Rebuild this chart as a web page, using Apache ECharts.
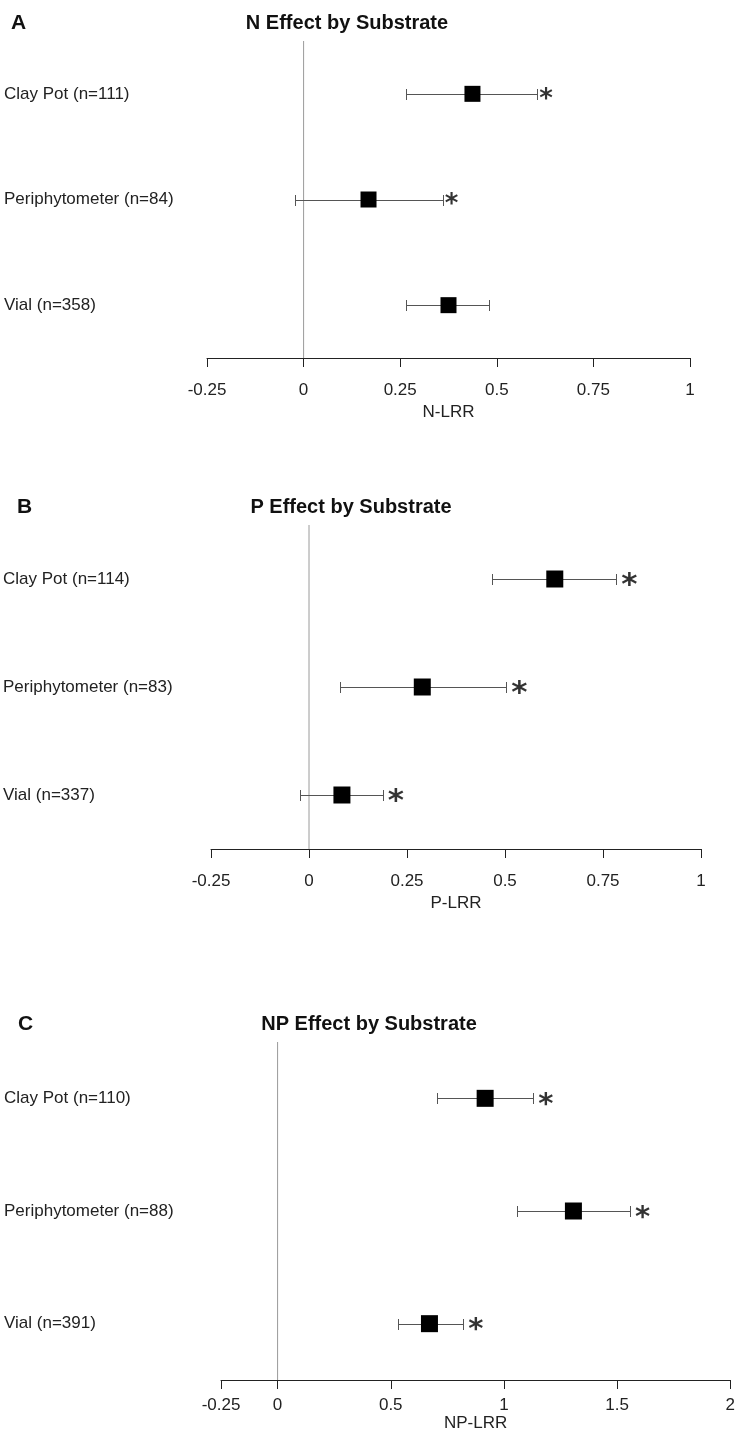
<!DOCTYPE html>
<html>
<head>
<meta charset="utf-8">
<script src="https://cdn.jsdelivr.net/npm/echarts@6/dist/echarts.min.js"></script>
<style>html,body{margin:0;padding:0;background:#fff}#c{width:738px;height:1446px}</style>
</head>
<body>
<div id="c"></div>
<script>
// ---- Data ----
var catsA = ['Clay Pot (n=111)', 'Periphytometer (n=84)', 'Vial (n=358)'];
var meanA = [0.437, 0.168, 0.375];
var lowA  = [0.266, -0.023, 0.266];
var highA = [0.605, 0.360, 0.479];
var sigA  = [true, true, false];
var ticksA = [-0.25, 0, 0.25, 0.5, 0.75, 1];

var catsB = ['Clay Pot (n=114)', 'Periphytometer (n=83)', 'Vial (n=337)'];
var meanB = [0.627, 0.289, 0.084];
var lowB  = [0.467, 0.079, -0.022];
var highB = [0.784, 0.503, 0.188];
var sigB  = [true, true, true];
var ticksB = [-0.25, 0, 0.25, 0.5, 0.75, 1];

var catsC = ['Clay Pot (n=110)', 'Periphytometer (n=88)', 'Vial (n=391)'];
var meanC = [0.917, 1.307, 0.671];
var lowC  = [0.706, 1.057, 0.531];
var highC = [1.130, 1.557, 0.820];
var sigC  = [true, true, true];
var ticksC = [-0.25, 0, 0.5, 1, 1.5, 2];

var titles = ['N Effect by Substrate', 'P Effect by Substrate', 'NP Effect by Substrate'];
var letters = ['A', 'B', 'C'];
var axisNames = ['N-LRR', 'P-LRR', 'NP-LRR'];

// ---- Layout ----
var FONT = '"Liberation Sans", Arial, sans-serif';
var STARFONT = '"DejaVu Sans", sans-serif';
var panels = [
  {cats: catsA, mean: meanA, low: lowA, high: highA, sig: sigA, ticks: ticksA,
   grid: {left: 207, right: 48, top: 41, height: 317}, labelX: 4, square: 16, star: 26, starDist: 2,
   labelMargin: 24, nameGap: 46, titleX: 342, titleY: 21, letterX: 6},
  {cats: catsB, mean: meanB, low: lowB, high: highB, sig: sigB, ticks: ticksB,
   grid: {left: 207, right: 37, top: 525, height: 324}, labelX: -1, square: 17, star: 31, starDist: 5,
   labelMargin: 24, nameGap: 46, titleX: 346, titleY: 505, letterX: 12},
  {cats: catsC, mean: meanC, low: lowC, high: highC, sig: sigC, ticks: ticksC,
   grid: {left: 221, right: 4, top: 1042, height: 338}, labelX: 4, square: 17, star: 29, starDist: 5,
   labelMargin: 17, nameGap: 32, titleX: 364, titleY: 1022, letterX: 13}
];

function errRender(capH) {
  return function (params, api) {
    var idx = api.value(2);
    var lo = api.coord([api.value(0), idx]);
    var hi = api.coord([api.value(1), idx]);
    var y = Math.round(lo[1]) + 0.5;
    var x1 = Math.round(lo[0]) + 0.5, x2 = Math.round(hi[0]) + 0.5;
    var h = capH / 2;
    var st = {stroke: '#555', lineWidth: 1};
    return {type: 'group', children: [
      {type: 'line', shape: {x1: x1, y1: y, x2: x2, y2: y}, style: st},
      {type: 'line', shape: {x1: x1, y1: y - h, x2: x1, y2: y + h}, style: st},
      {type: 'line', shape: {x1: x2, y1: y - h, x2: x2, y2: y + h}, style: st}
    ]};
  };
}

var option = {
  backgroundColor: '#fff',
  animation: false,
  title: [], grid: [], xAxis: [], yAxis: [], series: []
};

panels.forEach(function (p, i) {
  option.title.push({
    text: letters[i], left: p.letterX, top: p.titleY - 13,
    textStyle: {fontFamily: FONT, fontSize: 21, fontWeight: 'bold', color: '#111'}
  });
  option.title.push({
    text: titles[i], left: p.titleX, top: p.titleY - 13, textAlign: 'center',
    textStyle: {fontFamily: FONT, fontSize: 20, fontWeight: 'bold', color: '#111'}
  });
  option.grid.push(p.grid);
  option.xAxis.push({
    type: 'value', gridIndex: i,
    min: p.ticks[0], max: p.ticks[p.ticks.length - 1],
    name: axisNames[i], nameLocation: 'middle', nameGap: p.nameGap,
    nameTextStyle: {fontFamily: FONT, fontSize: 17, color: '#222'},
    axisLine: {show: true, onZero: false, lineStyle: {color: '#222', width: 1}},
    axisTick: {show: true, length: 9, customValues: p.ticks, lineStyle: {color: '#222'}},
    axisLabel: {customValues: p.ticks, margin: p.labelMargin, fontFamily: FONT, fontSize: 17, color: '#222',
      formatter: function (v) { return String(v); }},
    splitLine: {show: false}
  });
  var cats = p.cats;
  option.yAxis.push({
    type: 'value', gridIndex: i, min: -0.5, max: 2.5, inverse: true,
    axisLine: {show: false}, axisTick: {show: false}, splitLine: {show: false},
    axisLabel: {customValues: [0, 1, 2], align: 'left', margin: p.grid.left - p.labelX,
      fontFamily: FONT, fontSize: 17, color: '#222',
      formatter: function (v) { return cats[Math.round(v)] || ''; }}
  });
  var errData = p.cats.map(function (c, k) { return [p.low[k], p.high[k], k]; });
  option.series.push({
    type: 'custom', xAxisIndex: i, yAxisIndex: i, renderItem: errRender(11),
    encode: {x: [0, 1], y: 2}, data: errData, silent: true, z: 2
  });
  option.series.push({
    type: 'line', xAxisIndex: i, yAxisIndex: i, silent: true, z: 1, symbol: 'none',
    data: [[0, -0.5], [0, 2.5]], lineStyle: {color: '#9a9a9a', width: 1}
  });
  option.series.push({
    type: 'scatter', xAxisIndex: i, yAxisIndex: i, symbol: 'rect', symbolSize: p.square,
    itemStyle: {color: '#000', opacity: 1}, z: 3, silent: true,
    data: p.cats.map(function (c, k) { return [p.mean[k], k]; })
  });
  var starData = [];
  p.cats.forEach(function (c, k) { if (p.sig[k]) starData.push([p.high[k], k]); });
  option.series.push({
    type: 'scatter', xAxisIndex: i, yAxisIndex: i, symbolSize: 0, silent: true, z: 4,
    data: starData,
    label: {show: true, formatter: '*', position: 'right', distance: p.starDist,
      offset: [0, Math.round(p.star * 0.24)],
      fontFamily: STARFONT, fontSize: p.star, fontWeight: 'bold', color: '#000'}
  });
});

var chart = echarts.init(document.getElementById('c'), null, {renderer: 'canvas'});
chart.setOption(option);
</script>
</body>
</html>
